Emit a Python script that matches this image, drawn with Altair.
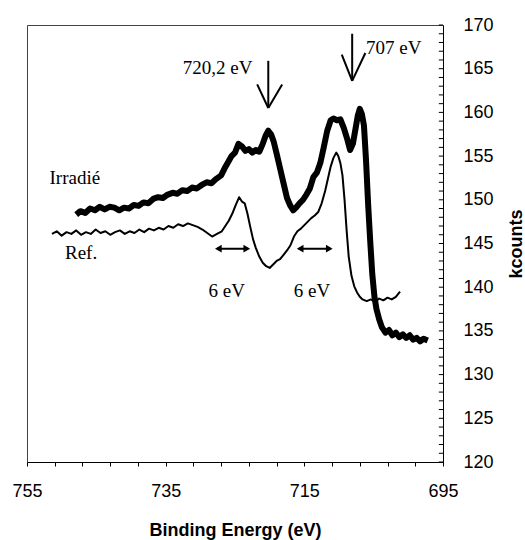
import altair as alt
import pandas as pd

# ---- data ----
irr_E = [747.9, 747.3, 746.6, 745.9, 745.2, 744.5, 743.8, 743.1, 742.4, 741.7, 741.0, 740.3,
         739.6, 738.9, 738.2, 737.5, 736.8, 736.1, 735.4, 734.7, 734.0, 733.3, 732.6, 731.9,
         731.2, 730.5, 729.8, 729.1, 728.4, 727.7, 727.0, 726.5, 726.0, 725.5, 725.0, 724.5,
         724.0, 723.5, 723.0, 722.5, 722.0, 721.5, 721.0, 720.6, 720.2, 719.8, 719.4, 719.0,
         718.5, 718.0, 717.5, 717.0, 716.6, 716.2, 715.7, 715.2, 714.7, 714.2, 713.7, 713.2,
         712.7, 712.2, 711.7, 711.2, 710.8, 710.3, 709.8, 709.3, 708.8, 708.4, 708.0, 707.6,
         707.3, 707.0, 706.7, 706.4, 706.1, 705.8, 705.5, 705.2, 704.9, 704.6, 704.2, 703.8,
         703.3, 702.8, 702.3, 701.8, 701.3, 700.8, 700.3, 699.8, 699.3, 698.8, 698.3, 697.8,
         697.2]
irr_val = [148.3, 148.7, 148.5, 149.0, 148.8, 149.2, 148.9, 149.2, 149.1, 148.8, 149.1, 149.0,
           149.4, 149.3, 149.7, 149.6, 150.1, 150.3, 150.2, 150.6, 150.8, 150.7, 151.1, 151.0,
           151.4, 151.3, 151.7, 152.0, 151.9, 152.4, 152.8, 153.6, 154.3, 155.0, 155.4, 156.4,
           156.1, 155.6, 155.8, 155.4, 155.7, 155.5, 156.4, 157.3, 157.9, 157.5, 156.6, 155.3,
           153.6, 151.9, 150.2, 149.3, 148.8, 149.1, 149.6, 150.0, 150.6, 151.3, 152.6, 153.1,
           154.2, 156.0, 157.9, 159.1, 159.3, 159.1, 159.2, 158.2, 156.9, 155.7, 156.4, 158.2,
           159.6, 160.4, 159.8, 158.5, 154.5, 149.5, 145.3, 141.5, 139.0, 137.5, 136.3, 135.4,
           134.8, 135.1, 134.5, 134.8, 134.3, 134.6, 134.2, 134.5, 134.0, 134.2, 133.8, 134.1,
           133.9]

ref_E = [751.4, 750.7, 750.0, 749.3, 748.6, 747.9, 747.2, 746.5, 745.8, 745.1, 744.4, 743.7,
         743.0, 742.3, 741.6, 740.9, 740.2, 739.5, 738.8, 738.1, 737.4, 736.7, 736.0, 735.3,
         734.6, 733.9, 733.2, 732.5, 731.8, 731.1, 730.4, 729.7, 729.0, 728.3, 727.6, 726.9,
         726.4, 725.9, 725.4, 724.9, 724.4, 724.0, 723.6, 723.2, 722.8, 722.4, 722.0, 721.5,
         721.0, 720.5, 720.0, 719.5, 719.0, 718.5, 718.0, 717.5, 717.0, 716.5, 716.0, 715.5,
         715.0, 714.5, 714.0, 713.5, 713.0, 712.5, 712.0, 711.6, 711.2, 710.8, 710.4, 710.1,
         709.8, 709.5, 709.2, 708.9, 708.6, 708.2, 707.8, 707.4, 707.0, 706.6, 706.0, 705.4,
         704.8, 704.2, 703.6, 703.0, 702.4, 701.8, 701.2]
ref_val = [146.1, 146.4, 145.9, 146.3, 146.1, 146.5, 146.0, 146.3, 146.1, 146.6, 146.2, 146.4,
           146.0, 146.3, 146.5, 146.1, 146.4, 146.2, 146.6, 146.3, 146.7, 146.5, 146.8, 146.6,
           147.0, 146.8, 147.2, 147.0, 147.3, 147.1, 146.9, 146.6, 146.2, 145.8, 146.1, 146.4,
           147.0, 147.6, 148.4, 149.4, 150.3, 149.8, 149.6, 148.4, 146.9, 145.5, 144.5, 143.5,
           142.8, 142.4, 142.2, 142.6, 143.0, 143.2, 143.7, 144.2, 144.8, 145.8, 146.4, 146.7,
           147.1, 147.5, 147.9, 148.2, 148.6, 149.6, 151.0, 152.4, 153.8, 154.8, 155.4, 155.0,
           154.2, 152.8, 150.0, 146.5, 143.5, 141.3, 140.1, 139.4, 138.9, 138.6, 138.4, 138.6,
           138.3, 138.7, 138.5, 138.8, 138.6, 138.9, 139.5]

x_tick_values = list(range(755, 694, -4))
y_label_values = list(range(120, 171, 5))
y_minor_ticks = list(range(120, 171, 1))

label_text = ["Irradié", "Ref.", "720,2 eV", "707 eV", "6 eV", "6 eV"]
label_E = [748.1, 747.2, 727.5, 702.1, 726.2, 713.9]
label_val = [152.5, 143.9, 165.1, 167.4, 139.6, 139.6]

# annotation arrows (data coordinates)
seg_x1 = [720.2, 721.8, 718.2, 708.1, 709.6, 706.2, 727.6, 715.8]
seg_y1 = [165.9, 163.2, 163.2, 169.0, 166.6, 166.8, 144.4, 144.4]
seg_x2 = [720.2, 720.2, 720.2, 708.1, 708.1, 708.1, 723.1, 711.2]
seg_y2 = [160.5, 160.5, 160.5, 163.6, 163.6, 163.6, 144.4, 144.4]

head_left_E = [727.4, 715.6]
head_right_E = [723.3, 711.4]
head_val = [144.4, 144.4]

# ---- tables ----
irr = pd.DataFrame({"E": irr_E, "v": irr_val, "i": range(len(irr_E))})
ref = pd.DataFrame({"E": ref_E, "v": ref_val, "i": range(len(ref_E))})
labels = pd.DataFrame({"E": label_E, "v": label_val, "t": label_text})
segs = pd.DataFrame({"E": seg_x1, "v": seg_y1, "x2": seg_x2, "y2": seg_y2})
hl = pd.DataFrame({"E": head_left_E, "v": head_val})
hr = pd.DataFrame({"E": head_right_E, "v": head_val})
yticks = pd.DataFrame({"v": y_minor_ticks, "E": [695.0] * len(y_minor_ticks),
                       "b": [695.6] * len(y_minor_ticks)})

xs = alt.Scale(domain=[695, 755], reverse=True, nice=False, zero=False)
ys = alt.Scale(domain=[120, 170], nice=False, zero=False)

x_axis = alt.Axis(
    values=x_tick_values,
    labelExpr="(755 - datum.value) % 20 == 0 ? datum.value : ''",
    title="Binding Energy (eV)",
    titleFont="Liberation Sans", titleFontSize=18, titleFontWeight="bold",
    titleColor="black", titlePadding=21,
    labelFont="Liberation Sans", labelFontSize=18, labelColor="black",
    labelPadding=16, tickSize=4, tickColor="black", domainColor="black",
    grid=False, labelFlush=False, labelOverlap=False,
)
y_axis = alt.Axis(
    orient="right", values=y_label_values, ticks=False,
    title="kcounts", titleAngle=270, titleFont="Liberation Sans", titleFontSize=18,
    titleFontWeight="bold", titleColor="black", titlePadding=32,
    labelFont="Liberation Sans", labelFontSize=18, labelColor="black",
    labelPadding=20, domainColor="black", grid=False, labelFlush=False,
)

X = alt.X("E:Q", scale=xs, axis=x_axis)
Y = alt.Y("v:Q", scale=ys, axis=y_axis)

tick_layer = alt.Chart(yticks).mark_rule(color="black", strokeWidth=1).encode(
    x=X, x2="b:Q", y=Y)
irr_line = alt.Chart(irr).mark_line(color="black", strokeWidth=6, strokeJoin="round").encode(
    x=X, y=Y, order="i:Q")
ref_line = alt.Chart(ref).mark_line(color="black", strokeWidth=2, strokeJoin="round").encode(
    x=X, y=Y, order="i:Q")
seg_layer = alt.Chart(segs).mark_rule(color="black", strokeWidth=2).encode(
    x=X, x2="x2:Q", y=Y, y2="y2:Q")
hl_layer = alt.Chart(hl).mark_point(shape="triangle-left", filled=True, color="black",
                                    size=60, opacity=1).encode(x=X, y=Y)
hr_layer = alt.Chart(hr).mark_point(shape="triangle-right", filled=True, color="black",
                                    size=60, opacity=1).encode(x=X, y=Y)
text_layer = alt.Chart(labels).mark_text(font="Liberation Serif", fontSize=19, color="black",
                                         align="center", baseline="middle").encode(
    x=X, y=Y, text="t:N")

chart = alt.layer(tick_layer, ref_line, irr_line, seg_layer, hl_layer, hr_layer, text_layer).properties(
    width=416, height=437,
    padding={"left": 27, "top": 25, "right": 82, "bottom": 78},
    autosize=alt.AutoSizeParams(type="none"),
    background="white",
).configure_view(stroke="#444", strokeWidth=1)

chart.save("out.html", embed_options={"renderer": "svg", "actions": False})
